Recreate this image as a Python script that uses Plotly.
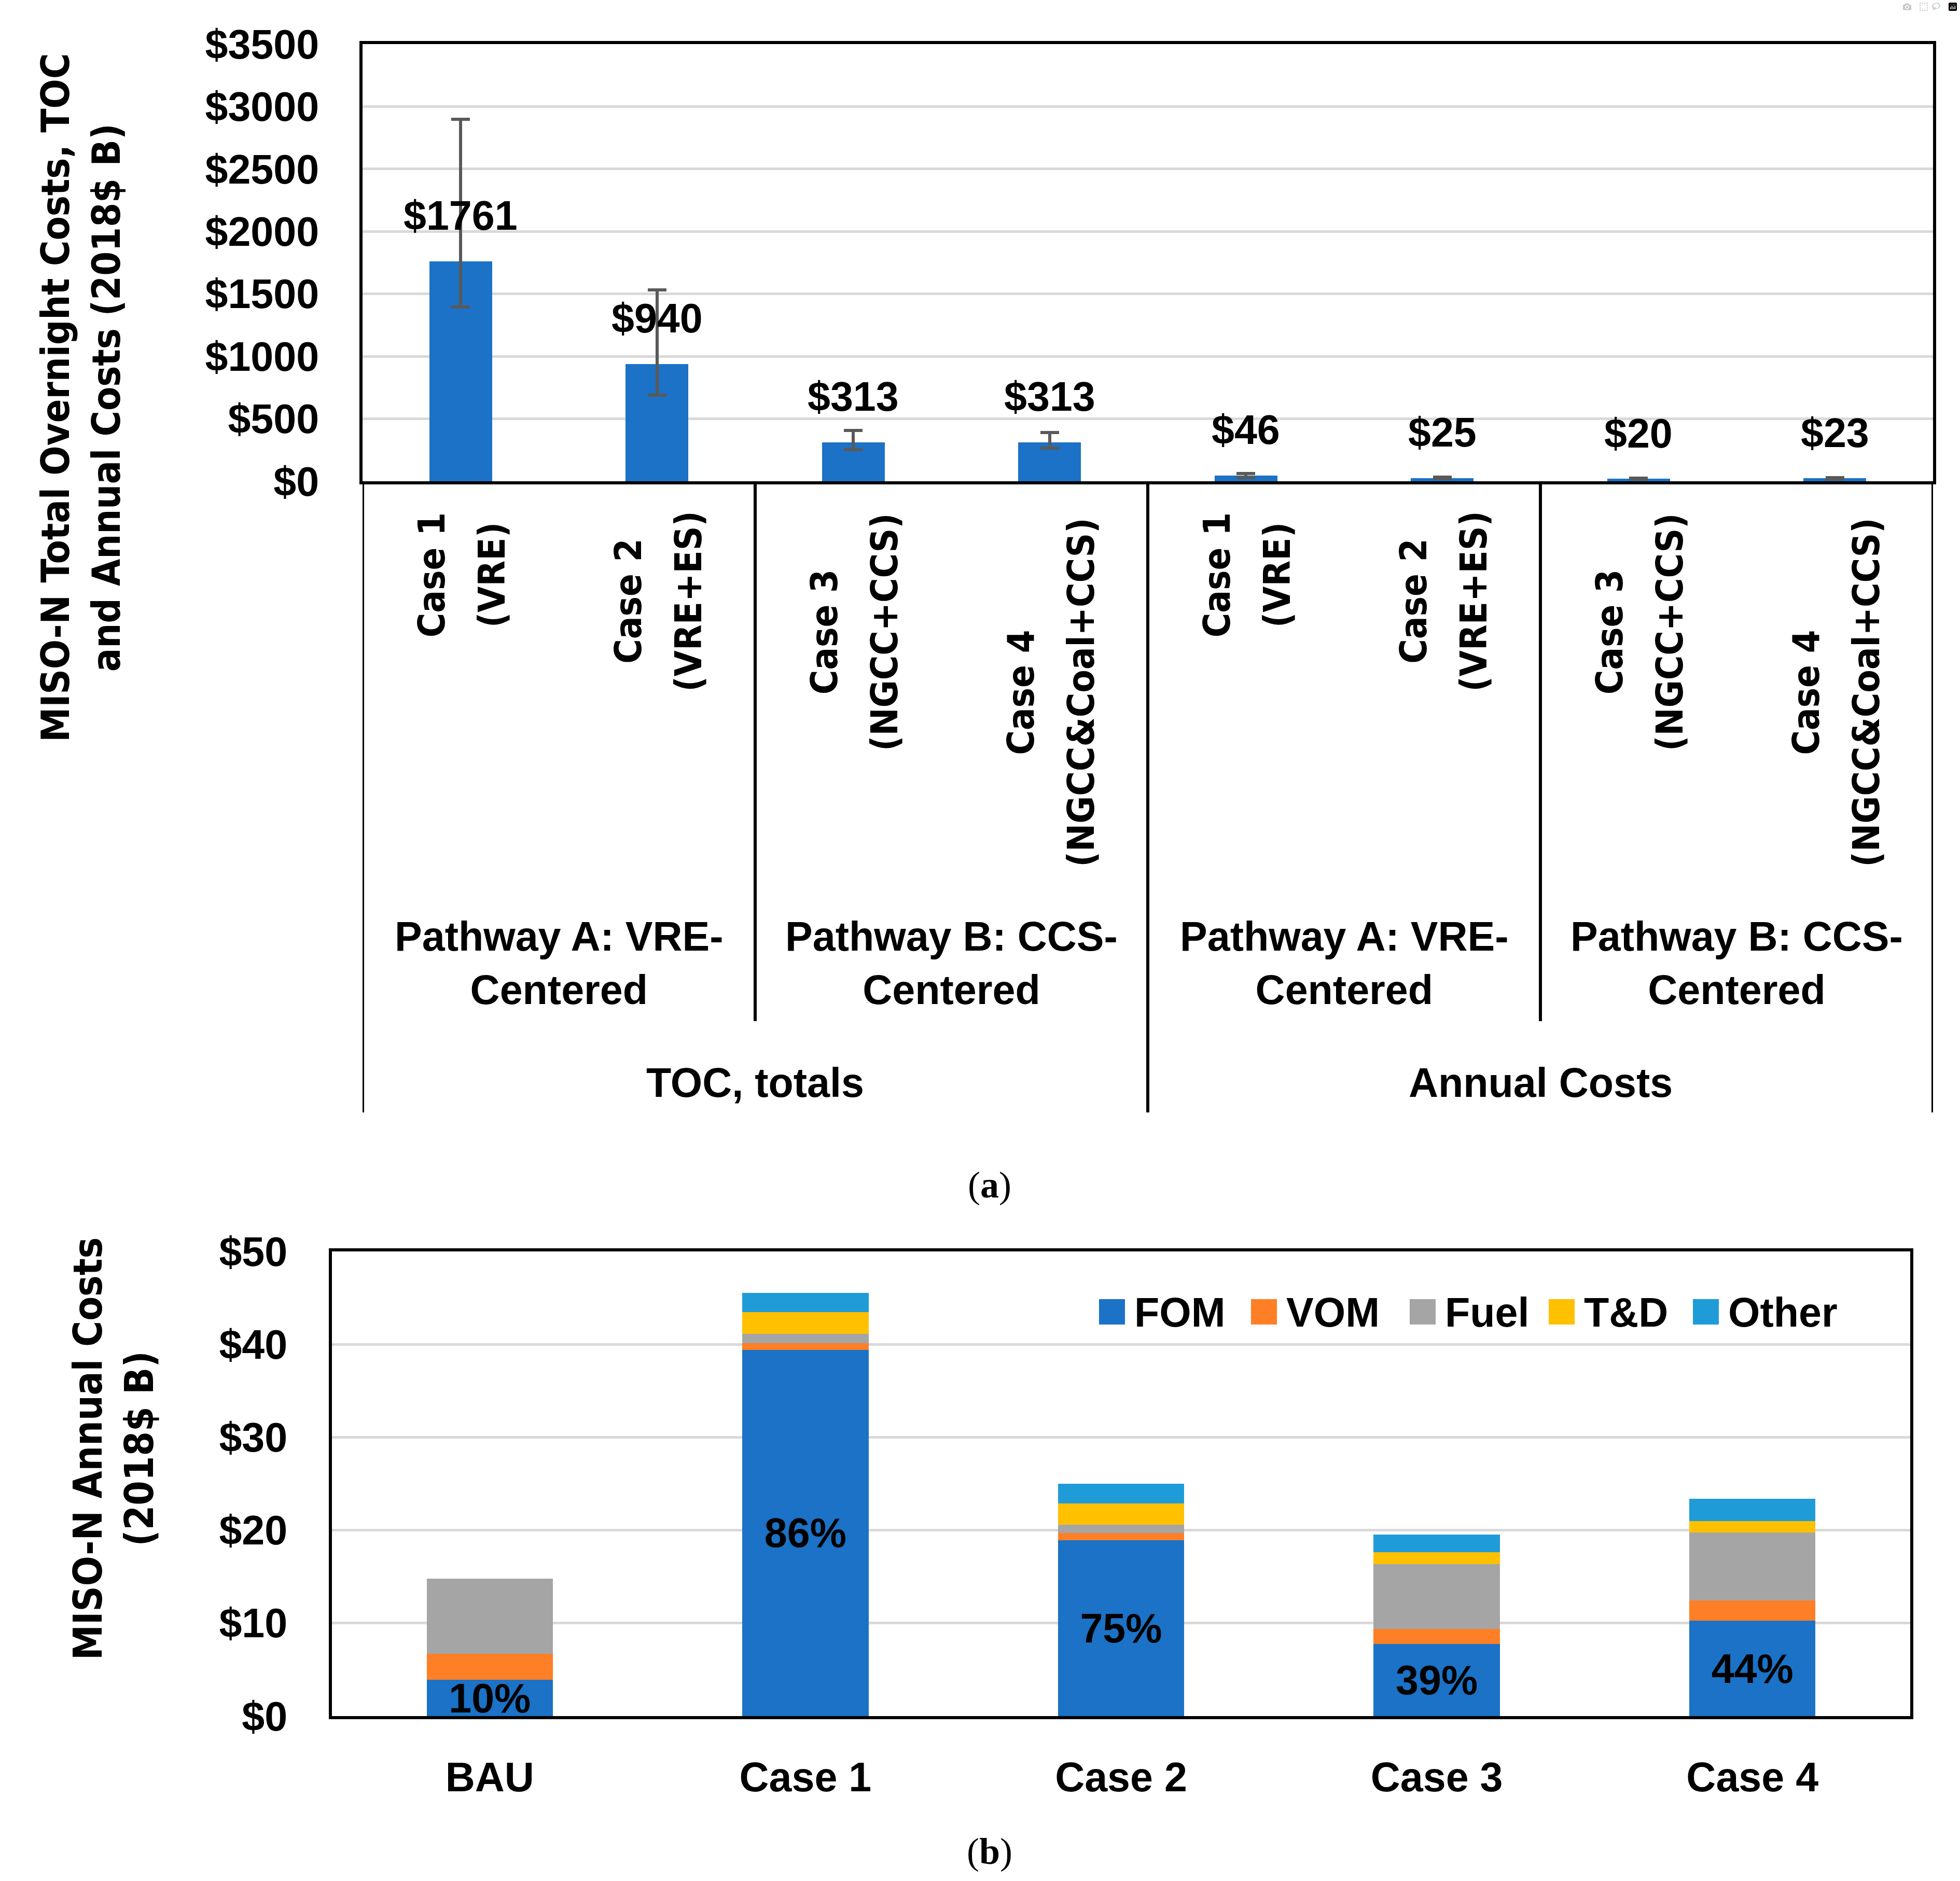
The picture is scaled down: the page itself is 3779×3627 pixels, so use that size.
import plotly.graph_objects as go

W, H = 3779, 3627

# ---- panel (a): total overnight costs and annual costs ----
cost_groups = ["TOC, totals", "Annual Costs"]
pathways = ["Pathway A: VRE-<br>Centered", "Pathway B: CCS-<br>Centered"]
case_names = ["Case 1", "Case 2", "Case 3", "Case 4"]
case_techs = ["(VRE)", "(VRE+ES)", "(NGCC+CCS)", "(NGCC&Coal+CCS)"]
toc_values = [1761, 940, 313, 313]
toc_err_plus = [1139, 590, 92, 77]
toc_err_minus = [366, 250, 58, 48]
annual_values = [46, 25, 20, 23]
annual_err_plus = [15, 8, 5, 6]
annual_err_minus = [15, 6, 4, 5]

# ---- panel (b): annual cost breakdown ----
scenarios = ["BAU", "Case 1", "Case 2", "Case 3", "Case 4"]
fom = [3.9, 39.4, 18.9, 7.75, 10.25]
vom = [2.8, 0.75, 0.8, 1.65, 2.2]
fuel = [8.1, 0.95, 0.9, 6.95, 7.3]
t_and_d = [0, 2.35, 2.3, 1.3, 1.25]
other = [0, 2.1, 2.1, 1.9, 2.4]
fom_share = ["10%", "86%", "75%", "39%", "44%"]

CAL = "Liberation Sans, Arial, sans-serif"
TAH = "DejaVu Sans Condensed, DejaVu Sans, Verdana, sans-serif"
BLUE = "#1B72C6"
colors = ["#1B72C6", "#FF7F27", "#A5A5A5", "#FFC000", "#1F9CD8"]

# vertical centre (px from top) of each rotated case label block
label_mid_px = [1109, 1159, 1219, 1335]


def px_x(px):
    return px / W


def px_y(px):
    return 1 - px / H


def cal(size=79):
    return dict(family=CAL, size=size, color="black", weight="bold")


def tah(size=72):
    return dict(family=TAH, size=size, color="black", weight="bold")


x_keys = [g + " / " + c for g in cost_groups for c in case_names]
values_a = toc_values + annual_values

fig = go.Figure()

fig.add_trace(go.Bar(
    x=x_keys, y=values_a, width=0.32,
    marker=dict(color=BLUE, line=dict(width=0)),
    error_y=dict(type="data", symmetric=False,
                 array=toc_err_plus + annual_err_plus,
                 arrayminus=toc_err_minus + annual_err_minus,
                 color="#595959", thickness=6, width=18),
    xaxis="x", yaxis="y", showlegend=False,
))

series = [("FOM", fom), ("VOM", vom), ("Fuel", fuel), ("T&D", t_and_d), ("Other", other)]
for (name, vals), col in zip(series, colors):
    fig.add_trace(go.Bar(
        x=scenarios, y=vals, name=name, width=0.4,
        marker=dict(color=col, line=dict(width=0)),
        text=fom_share if name == "FOM" else None,
        textposition="inside" if name == "FOM" else "none",
        insidetextanchor="middle", constraintext="none",
        textfont=cal(79), textangle=0,
        xaxis="x2", yaxis="y2", showlegend=False,
    ))

annotations = []

# value labels above the bars of (a)
for k, v in zip(x_keys, values_a):
    annotations.append(dict(x=k, y=v, xref="x", yref="y", text="$" + str(v),
                            showarrow=False, yanchor="middle", yshift=88,
                            font=cal(79)))

# rotated case labels, two lines centred on each other
for i, k in enumerate(x_keys):
    j = i % 4
    for txt, shift in [(case_names[j], -56), (case_techs[j], 60)]:
        annotations.append(dict(x=k, y=px_y(label_mid_px[j]), xref="x", yref="paper",
                                text=txt, showarrow=False, textangle=-90,
                                xanchor="center", yanchor="middle", xshift=shift,
                                font=tah(72)))

# pathway labels and cost group labels
for i, p in enumerate(pathways * 2):
    annotations.append(dict(x=2 * i + 0.5, y=px_y(1857), xref="x", yref="paper",
                            text=p, showarrow=False, align="center",
                            yanchor="middle", font=cal(79)))
for i, g in enumerate(cost_groups):
    annotations.append(dict(x=4 * i + 1.5, y=px_y(2087), xref="x", yref="paper",
                            text=g, showarrow=False, yanchor="middle", font=cal(79)))

# axis titles
annotations.append(dict(x=px_x(156), y=px_y(767), xref="paper", yref="paper",
                        text="MISO-N Total Overnight Costs, TOC<br>and Annual Costs (2018$ B)",
                        showarrow=False, textangle=-90, align="center",
                        xanchor="center", yanchor="middle", font=tah(75)))
annotations.append(dict(x=px_x(219), y=px_y(2794), xref="paper", yref="paper",
                        text="MISO-N Annual Costs<br>(2018$ B)",
                        showarrow=False, textangle=-90, align="center",
                        xanchor="center", yanchor="middle", font=tah(76)))

# panel letters
for lbl, ypx in [("a", 2285), ("b", 3570)]:
    annotations.append(dict(x=px_x(1908), y=px_y(ypx), xref="paper", yref="paper",
                            text="(<b>" + lbl + "</b>)", showarrow=False,
                            yanchor="middle", borderpad=0,
                            font=dict(family="Liberation Serif, Times New Roman, serif",
                                      size=72, color="black")))

# legend of (b), drawn by hand so the swatches can be large
legend_sq_x = [2119, 2412, 2718, 2986, 3264]
shapes = []
for (name, _), col, sx in zip(series, colors, legend_sq_x):
    shapes.append(dict(type="rect", xref="paper", yref="paper",
                       x0=px_x(sx), x1=px_x(sx + 50), y0=px_y(2554), y1=px_y(2505),
                       fillcolor=col, line=dict(width=0)))
    annotations.append(dict(x=px_x(sx + 66), y=px_y(2530), xref="paper", yref="paper",
                            text=name, showarrow=False, xanchor="left",
                            yanchor="middle", font=cal(79)))

# category axis frame of (a)
line = dict(color="black", width=6)
for xv, bottom in [(-0.5, 2145), (3.5, 2145), (7.5, 2145), (1.5, 1969), (5.5, 1969)]:
    shapes.append(dict(type="line", xref="x", yref="paper", x0=xv, x1=xv,
                       y0=px_y(928), y1=px_y(bottom), line=line))

grid = dict(showgrid=True, gridcolor="#D9D9D9", gridwidth=5, zeroline=False,
            showline=True, linecolor="black", linewidth=6, mirror=True, ticks="",
            tickfont=cal(79), fixedrange=True, automargin=False)

fig.update_layout(
    width=W, height=H,
    margin=dict(l=0, r=0, t=0, b=0, pad=0, autoexpand=False),
    paper_bgcolor="white", plot_bgcolor="white",
    barmode="stack", showlegend=False,
    xaxis=dict(domain=[px_x(699), px_x(3727)], anchor="y", type="category",
               range=[-0.5, 7.5], showticklabels=False, showgrid=False,
               showline=True, linecolor="black", linewidth=6, mirror=True,
               ticks="", fixedrange=True, automargin=False),
    yaxis=dict(domain=[px_y(928), px_y(85)], anchor="x", range=[0, 3500],
               dtick=500, tickprefix="$", ticklabelstandoff=62, **grid),
    xaxis2=dict(domain=[px_x(640), px_x(3683)], anchor="y2", type="category",
                showgrid=False, showline=True, linecolor="black", linewidth=6,
                mirror=True, ticks="", tickfont=cal(79), ticklabelstandoff=44,
                fixedrange=True, automargin=False),
    yaxis2=dict(domain=[px_y(3309), px_y(2413)], anchor="x2", range=[0, 50],
                dtick=10, tickprefix="$", ticklabelstandoff=64, **grid),
    annotations=annotations,
    shapes=shapes,
)

fig.write_html("out.html", post_script="document.body.style.margin='0';")
